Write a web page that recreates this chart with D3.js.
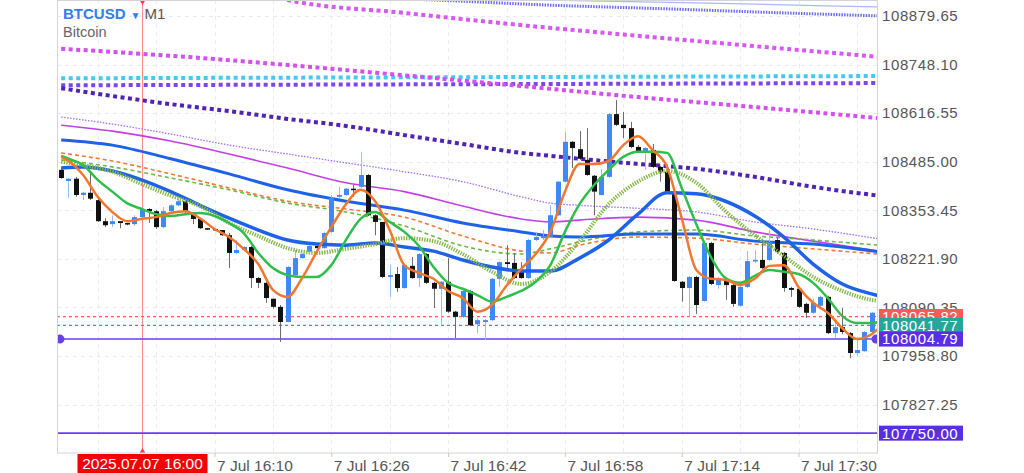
<!DOCTYPE html>
<html><head><meta charset="utf-8">
<script src="https://cdn.jsdelivr.net/npm/d3@7"></script>
<style>
html,body{margin:0;padding:0;background:#fff;}
svg{display:block;font-family:"Liberation Sans",Arial,Helvetica,sans-serif;}
</style></head><body>
<svg id="chart" width="1024" height="473"></svg>
<script>
// ---------- DATA ----------
// candle minute offsets relative to 2025-07-07 16:00 (first = 15:49, last = 17:42)
const firstMinute = -11;
const openVals  = [108463,108433,108439,108395,108401,108381,108324,108316,108324,108319,108316,
  108335,108357,108351,108308,108351,108367,108378,108346,108330,108305,108303,108300,108286,108238,108246,
  108254,108170,108157,108114,108092,108051,108178,108224,108241,108257,108251,108295,108390,108395,108412,
  108417,108449,108340,108322,108173,108181,108143,108203,108170,108235,108157,108141,108160,108079,108065,
  108135,108045,108051,108056,108168,108213,108211,108187,108170,108273,108278,108281,108340,108431,108539,
  108519,108490,108447,108395,108444,108614,108585,108576,108525,108514,108517,108471,108458,108404,108160,
  108143,108173,108108,108265,108151,108165,108151,108095,108146,108216,108219,108219,108273,108238,108143,
  108141,108100,108076,108095,108119,108021,108037,108021,107967,107972,108024,108076];
const highVals  = [108468,108441,108444,108404,108458,108385,108332,108340,108324,108319,108340,
  108359,108359,108354,108362,108370,108385,108385,108346,108332,108305,108303,108300,108292,108273,108257,
  108257,108173,108160,108114,108097,108203,108246,108238,108259,108259,108295,108395,108417,108414,108422,
  108512,108452,108343,108322,108205,108200,108208,108227,108238,108238,108160,108162,108224,108081,108138,
  108138,108062,108059,108170,108216,108259,108238,108213,108276,108295,108300,108367,108433,108566,108541,
  108568,108576,108449,108466,108617,108652,108620,108593,108530,108525,108533,108474,108460,108406,108162,
  108176,108176,108268,108268,108173,108170,108157,108149,108243,108246,108268,108300,108281,108241,108146,
  108143,108103,108114,108122,108122,108051,108089,108024,108002,108026,108078,108160];
const lowVals   = [108439,108387,108390,108381,108381,108322,108308,108308,108305,108313,108311,
  108332,108319,108303,108305,108346,108365,108346,108316,108303,108300,108297,108284,108197,108235,108243,
  108143,108143,108103,108087,107997,108051,108178,108222,108238,108249,108249,108292,108387,108393,108390,
  108414,108338,108286,108170,108119,108133,108141,108168,108146,108154,108089,108042,108076,108007,108062,
  108040,108021,108002,108053,108146,108197,108168,108168,108168,108270,108273,108278,108338,108428,108468,
  108490,108447,108340,108393,108441,108582,108549,108522,108509,108463,108468,108431,108401,108160,108106,
  108065,108073,108106,108151,108141,108111,108092,108092,108143,108211,108195,108216,108235,108133,108119,
  108089,108062,108073,108084,108018,108007,108018,107953,107959,107970,108021,108073];
const closeVals = [108441,108439,108395,108401,108385,108324,108313,108324,108319,108316,108335,
  108357,108351,108308,108351,108367,108378,108349,108330,108305,108303,108300,108286,108238,108246,108254,
  108170,108157,108116,108092,108051,108200,108224,108235,108257,108251,108292,108387,108395,108412,108409,
  108449,108340,108322,108173,108178,108143,108205,108170,108235,108157,108141,108160,108079,108065,108135,
  108042,108056,108056,108168,108213,108208,108170,108170,108273,108281,108284,108340,108431,108539,108522,
  108493,108449,108404,108444,108614,108585,108576,108525,108514,108522,108471,108458,108404,108162,108143,
  108173,108097,108265,108154,108170,108151,108100,108146,108216,108219,108197,108268,108241,108143,108138,
  108092,108076,108103,108119,108021,108037,108024,107967,107975,108024,108076,108119];

// moving averages: minute offsets and values
const fastIdx = [-11,-10,-8,-6,-4,-2,0,2,4,6,8,10,12,14,16,18,20,22,24,26,28,30,32,34,36,38,40,42,44,46,48,50,52,54,56,58,60,62,64,66,68,70,72,74,76,78,80,82,84,86,88,90,92,94,96,98,100,101];
const maOrange = [108498,108487,108449,108390,108349,108324,108330,108335,108346,108351,108332,108303,108281,108249,108208,108138,108119,108170,108241,108308,108370,108409,108378,108300,108205,108184,108168,108135,108116,108079,108097,108149,108195,108235,108295,108404,108479,108479,108487,108530,108554,108517,108471,108332,108192,108168,108165,108151,108168,108203,108205,108146,108103,108076,108034,108005,108018,108034];
const maGreen  = [108501,108493,108476,108436,108404,108373,108357,108343,108338,108343,108346,108338,108319,108292,108238,108197,108178,108173,108173,108205,108273,108330,108349,108322,108295,108257,108200,108157,108141,108124,108106,108119,108135,108160,108205,108295,108370,108422,108463,108498,108512,108512,108509,108414,108316,108227,108170,108157,108176,108192,108187,108181,108157,108116,108067,108048,108048,108051];
const midIdx = [-11,-8,-4,0,4,8,12,16,20,24,28,32,36,40,44,48,52,56,60,64,68,72,76,80,84,88,92,96,100,101];
const maOlive = [108485,108476,108458,108425,108393,108365,108319,108284,108251,108238,108249,108262,108278,108270,108235,108187,108154,108187,108270,108370,108431,108460,108428,108351,108286,108230,108173,108135,108111,108108];
const maBlueA = [108468,108471,108460,108436,108404,108367,108332,108300,108273,108262,108259,108265,108254,108243,108219,108200,108189,108189,108224,108273,108343,108401,108398,108378,108338,108281,108208,108154,108127,108122];
const slowIdx = [-11,-4,4,12,20,28,36,44,52,56,60,68,76,84,92,101];
const maBlueB       = [108544,108530,108493,108452,108409,108378,108354,108319,108295,108284,108281,108289,108289,108270,108262,108241];
const maOrangeDash  = [108509,108487,108452,108414,108378,108357,108335,108284,108243,108238,108259,108281,108278,108262,108249,108235];
const maGreenDash   = [108490,108471,108441,108409,108373,108349,108311,108257,108235,108249,108268,108295,108300,108284,108273,108259];
const maMagenta     = [108584,108568,108541,108506,108468,108428,108404,108365,108330,108322,108327,108335,108327,108295,108270,108243];
const maLilacDot    = [108606,108587,108560,108530,108506,108482,108458,108431,108390,108373,108367,108359,108349,108322,108303,108276];
const maIndigoDot   = [108684,108663,108641,108622,108601,108582,108557,108533,108509,108501,108493,108479,108466,108444,108417,108393];
const magDotIdx = [-11,4,20,36,52,68,84,101];
const maMagentaDot  = [108791,108772,108747,108719,108690,108660,108633,108603];
const magTopIdx = [16,20,36,52,68,84,101];
const maMagentaTop  = [108945,108923,108888,108855,108826,108798,108769];
const violetIdx = [36,40,56,72,88,101];
const maVioletTop   = [108926,108923,108909,108899,108888,108880];
const lavenderIdx = [52,56,76,101];
const maLavender    = [108925,108923,108915,108904];
const flatIdx = [-11,101];
const maCyanDot     = [108711,108717];
const maPurpleDot   = [108692,108698];

// horizontal levels and labels
const levelAsk = 108065.82, levelBid = 108041.77, levelLine = 108004.79, levelLow = 107750.00;
const yTicks = [108879.65,108748.10,108616.55,108485.00,108353.45,108221.90,108090.35,107958.80,107827.25];
const xTickMinutes = [10,26,42,58,74,90];
const crossMinute = 0;
const symbol = "BTCUSD", timeframe = "M1", description = "Bitcoin";

// ---------- CHART ----------
const svg = d3.select("#chart");
const L = 57, R = 877, T = 0, B = 453;
const baseTime = new Date(2025, 6, 7, 16, 0);
const x = d3.scaleLinear().domain([-11.575, 100.75]).range([L, R]);
const y = d3.scaleLinear().domain([107696.25, 108922.98]).range([B, T]);
const toDate = m => new Date(baseTime.getTime() + m * 60000);

svg.append("defs").append("clipPath").attr("id", "plot")
  .append("rect").attr("x", L).attr("y", T).attr("width", R - L).attr("height", B - T);

// grid
const grid = svg.append("g").attr("clip-path", "url(#plot)");
grid.selectAll("line.h").data(yTicks).join("line")
  .attr("x1", L).attr("x2", R).attr("y1", d => Math.round(y(d)) + 0.5).attr("y2", d => Math.round(y(d)) + 0.5)
  .attr("stroke", "#e9e9ee").attr("stroke-dasharray", "4,4");
const vgrid = d3.range(-6, 101, 8);
grid.selectAll("line.v").data(vgrid).join("line")
  .attr("y1", T).attr("y2", B).attr("x1", d => Math.round(x(d)) + 0.5).attr("x2", d => Math.round(x(d)) + 0.5)
  .attr("stroke", "#ececf0").attr("stroke-dasharray", "4,4");

const plot = svg.append("g").attr("clip-path", "url(#plot)");

// crosshair
plot.append("line").attr("x1", Math.round(x(crossMinute)) + 0.5).attr("x2", Math.round(x(crossMinute)) + 0.5)
  .attr("y1", T).attr("y2", B).attr("stroke", "#ff8a8a").attr("stroke-width", 1);

function drawLine(idx, vals, st) {
  const pts = idx.map((m, k) => [m, vals[k]]);
  plot.append("path").datum(pts)
    .attr("d", d3.line().x(d => x(d[0])).y(d => y(d[1])).curve(d3.curveMonotoneX))
    .attr("fill", "none").attr("stroke", st.c).attr("stroke-width", st.w)
    .attr("stroke-dasharray", st.dash || null).attr("stroke-linecap", "butt").attr("opacity", st.o || 1);
}

// slow background lines
drawLine(lavenderIdx, maLavender, {c: "#a9b8ff", w: 1.3});
drawLine(violetIdx, maVioletTop, {c: "#6d6cf2", w: 3, dash: "1.5,1.2"});
drawLine(magTopIdx, maMagentaTop, {c: "#d957f2", w: 4, dash: "4,3.5"});
drawLine(flatIdx, maCyanDot, {c: "#45c8f2", w: 4, dash: "4,3.5"});
drawLine(flatIdx, maPurpleDot, {c: "#7d45ec", w: 4, dash: "4,3.5"});
drawLine(magDotIdx, maMagentaDot, {c: "#d44ff0", w: 4, dash: "4,3.5"});
drawLine(slowIdx, maIndigoDot, {c: "#4f23b4", w: 4, dash: "4,3.5"});
drawLine(slowIdx, maLilacDot, {c: "#9c6ff2", w: 1.3, dash: "1.5,1.5"});
drawLine(slowIdx, maMagenta, {c: "#c23fe6", w: 1.6});
drawLine(slowIdx, maOrangeDash, {c: "#f07a35", w: 1.6, dash: "4,3"});
drawLine(slowIdx, maGreenDash, {c: "#6db844", w: 1.6, dash: "4,3"});
drawLine(slowIdx, maBlueB, {c: "#1e62e6", w: 3});

// horizontal levels
plot.append("line").attr("x1", L).attr("x2", R).attr("y1", y(levelAsk)).attr("y2", y(levelAsk))
  .attr("stroke", "#f25c5c").attr("stroke-width", 1.2).attr("stroke-dasharray", "3,3");
plot.append("line").attr("x1", L).attr("x2", R).attr("y1", y(levelBid)).attr("y2", y(levelBid))
  .attr("stroke", "#26a69a").attr("stroke-width", 1.2).attr("stroke-dasharray", "3,3");
plot.append("line").attr("x1", L).attr("x2", R).attr("y1", y(levelLine)).attr("y2", y(levelLine))
  .attr("stroke", "#6a3fe6").attr("stroke-width", 1.6);
plot.append("line").attr("x1", L).attr("x2", R).attr("y1", y(levelLow)).attr("y2", y(levelLow))
  .attr("stroke", "#6a3fe6").attr("stroke-width", 1.6);

// candles
const candles = openVals.map((o, k) => ({m: firstMinute + k, o, h: highVals[k], l: lowVals[k], c: closeVals[k]}));
const cg = plot.append("g");
cg.selectAll("line").data(candles).join("line")
  .attr("x1", d => Math.round(x(d.m)) + 0.5).attr("x2", d => Math.round(x(d.m)) + 0.5)
  .attr("y1", d => y(d.h)).attr("y2", d => y(d.l))
  .attr("stroke", d => d.c >= d.o ? "#94bdf9" : "#6b6b6b").attr("stroke-width", 1);
cg.selectAll("rect").data(candles).join("rect")
  .attr("x", d => Math.round(x(d.m)) - 2).attr("width", 5)
  .attr("y", d => y(Math.max(d.o, d.c)))
  .attr("height", d => Math.max(1.5, Math.abs(y(d.o) - y(d.c))))
  .attr("fill", d => d.c >= d.o ? "#3f88f6" : "#111111");

// fast lines
drawLine(midIdx, maBlueA, {c: "#1e62e6", w: 3.5});
drawLine(midIdx, maOlive, {c: "#86b84a", w: 4, dash: "1.4,1.2"});
drawLine(fastIdx, maGreen, {c: "#2fbe4c", w: 2.5});
drawLine(fastIdx, maOrange, {c: "#f0772f", w: 2.5});

// level circles
plot.append("circle").attr("cx", L + 3).attr("cy", y(levelLine)).attr("r", 4.5).attr("fill", "#6a3fe6");
plot.append("circle").attr("cx", R - 1).attr("cy", y(levelLine)).attr("r", 4.5).attr("fill", "#6a3fe6");

// crosshair markers
const cx = Math.round(x(crossMinute)) + 0.5;
svg.append("path").attr("d", `M${cx-3},0 L${cx+3},0 L${cx},5 Z`).attr("fill", "#ff3b3b");
svg.append("path").attr("d", `M${cx-3},${B} L${cx+3},${B} L${cx},${B-5} Z`).attr("fill", "#ff3b3b");

// frame
svg.append("rect").attr("x", L + 0.5).attr("y", 0.5).attr("width", R - L).attr("height", B - 0.5)
  .attr("fill", "none").attr("stroke", "#d4d4d8");

// y axis
const yAxis = svg.append("g").attr("transform", `translate(${R},0)`)
  .call(d3.axisRight(y).tickValues(yTicks).tickSize(0).tickPadding(5).tickFormat(d3.format(".2f")));
yAxis.select(".domain").remove();
yAxis.selectAll("text").attr("fill", "#555").style("font-size", "15px").style("letter-spacing", "0.6px");

// price label boxes
function priceBox(v, bg) {
  const g = svg.append("g");
  g.append("rect").attr("x", R + 2).attr("y", y(v) - 7.5).attr("width", 84).attr("height", 15).attr("fill", bg);
  g.append("text").attr("x", R + 5).attr("y", y(v)).attr("dy", "0.36em").attr("fill", "#fff")
    .style("font-size", "15px").style("letter-spacing", "0.6px").text(d3.format(".2f")(v));
}
priceBox(levelAsk, "#f25c5c");
priceBox(levelBid, "#26a69a");
priceBox(levelLine, "#5a2ee3");
priceBox(levelLow, "#5a2ee3");

// x axis
const xAxis = svg.append("g").attr("transform", `translate(0,${B})`)
  .call(d3.axisBottom(x).tickValues(xTickMinutes).tickSize(4).tickPadding(3)
    .tickFormat(m => d3.timeFormat("%-d %b %H:%M")(toDate(m))));
xAxis.select(".domain").remove();
xAxis.selectAll("line").attr("stroke", "#c8c8cc");
xAxis.selectAll("text").attr("text-anchor", "start").attr("dx", "2").attr("fill", "#555").style("font-size", "15.5px");

// crosshair time label
const crossText = d3.timeFormat("%Y.%m.%d %H:%M")(toDate(crossMinute));
svg.append("rect").attr("x", cx - 65).attr("y", B + 1).attr("width", 130).attr("height", 20).attr("fill", "#f50000");
svg.append("text").attr("x", cx).attr("y", B + 16).attr("text-anchor", "middle").attr("fill", "#fff")
  .style("font-size", "15.5px").text(crossText);

// header
const hdr = svg.append("text").attr("x", 63).attr("y", 19).style("font-size", "15px");
hdr.append("tspan").attr("fill", "#2f7ef0").attr("font-weight", "bold").text(symbol);
hdr.append("tspan").attr("fill", "#2f7ef0").attr("dx", 5).style("font-size", "10px").text("▼");
hdr.append("tspan").attr("fill", "#555").attr("dx", 4).text(timeframe);
svg.append("text").attr("x", 63).attr("y", 37).attr("fill", "#666").style("font-size", "14.5px").text(description);
</script>
</body></html>
